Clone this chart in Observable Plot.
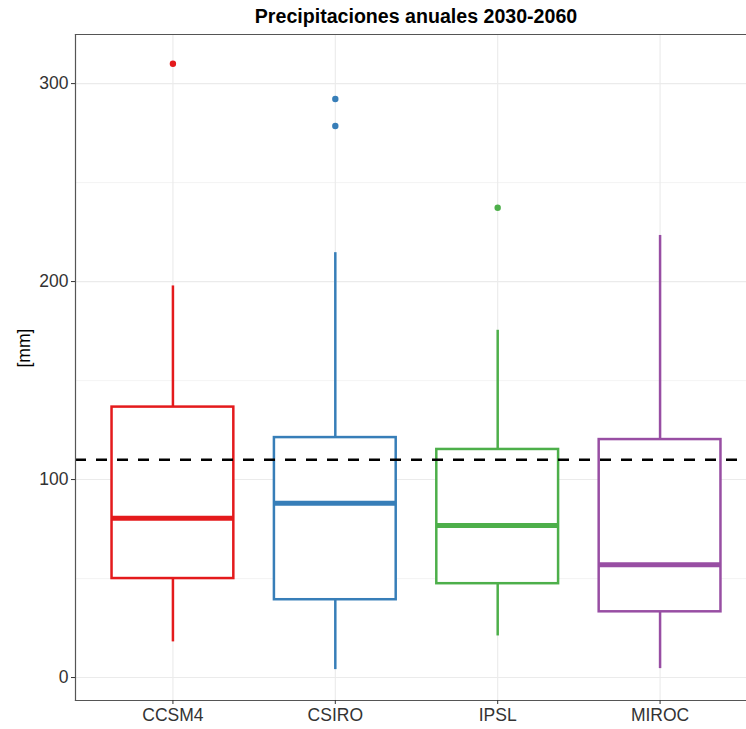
<!DOCTYPE html>
<html><head><meta charset="utf-8">
<script src="https://cdn.jsdelivr.net/npm/d3@7"></script>
<script src="https://cdn.jsdelivr.net/npm/@observablehq/plot@0.6"></script>
<style>
body{margin:0;background:#fff;}
#wrap{position:relative;width:746px;height:729px;overflow:hidden;font-family:"Liberation Sans",Arial,sans-serif;background:#fff;}
#title{position:absolute;top:5px;left:416px;transform:translateX(-50%);font-weight:bold;font-size:19.6px;white-space:nowrap;color:#000;line-height:1.2;}
#chart{position:absolute;left:0;top:0;}
</style></head><body>
<div id="wrap"><div id="chart"></div><div id="title">Precipitaciones anuales 2030-2060</div></div>
<script>
const categories = ["CCSM4", "CSIRO", "IPSL", "MIROC"];
const colors = ["#E41A1C", "#377EB8", "#4DAF4A", "#984EA3"];
const whiskerLow = [18, 4, 21, 4.5];
const q1 = [50, 39.3, 47.4, 33.2];
const median = [80.4, 88, 76.8, 57];
const q3 = [136.6, 121.2, 115.2, 120.2];
const whiskerHigh = [197.8, 214.6, 175.4, 223.3];
const outlierModel = ["CCSM4", "CSIRO", "CSIRO", "IPSL"];
const outlierValue = [310, 292.2, 278.6, 237.3];
const referenceLine = [110];
const yTicks = [0, 100, 200, 300];
const yMinor = [50, 150, 250];
const yDomain = [-11.6, 324.8];

const boxes = categories.map((c, i) => ({model: c, lo: whiskerLow[i], q1: q1[i], med: median[i], q3: q3[i], hi: whiskerHigh[i]}));
const outliers = outlierModel.map((m, i) => ({model: m, value: outlierValue[i]}));

const chart = Plot.plot({
  width: 746, height: 729,
  marginTop: 34, marginBottom: 29, marginLeft: 75, marginRight: 0,
  style: {fontFamily: "Liberation Sans, Arial, sans-serif", fontSize: "17.5px", background: "#fff", color: "#333"},
  x: {type: "band", domain: categories, range: [75, 757], paddingInner: 0.25, paddingOuter: 0.225, align: 0.5, round: false, label: null},
  y: {domain: yDomain, label: null},
  color: {domain: categories, range: colors},
  marks: [
    Plot.ruleY(yMinor, {stroke: "#ececec", strokeWidth: 0.6}),
    Plot.ruleY(yTicks, {stroke: "#ebebeb", strokeWidth: 1.1}),
    Plot.ruleX(categories, {stroke: "#ebebeb", strokeWidth: 1.1}),
    Plot.ruleX(boxes, {x: "model", y1: "q3", y2: "hi", stroke: "model", strokeWidth: 2.5}),
    Plot.ruleX(boxes, {x: "model", y1: "lo", y2: "q1", stroke: "model", strokeWidth: 2.5}),
    Plot.barY(boxes, {x: "model", y1: "q1", y2: "q3", fill: "white", stroke: "model", strokeWidth: 2.5}),
    Plot.tickY(boxes, {x: "model", y: "med", stroke: "model", strokeWidth: 5}),
    Plot.dot(outliers, {x: "model", y: "value", fill: "model", r: 3.2}),
    Plot.ruleY(referenceLine, {stroke: "#000", strokeWidth: 2.5, strokeDasharray: "11,10"}),
    Plot.frame({anchor: "left", stroke: "#555", strokeWidth: 1.2}),
    Plot.frame({anchor: "top", stroke: "#555", strokeWidth: 1.2}),
    Plot.frame({anchor: "bottom", stroke: "#555", strokeWidth: 1.2}),
    Plot.axisY({ticks: yTicks, tickSize: 4, tickPadding: 3, fontSize: 17.5, label: null}),
    Plot.axisX({tickSize: 4, tickPadding: 4, fontSize: 17.5, label: null}),
    Plot.text(["[mm]"], {frameAnchor: "left", dx: -51, rotate: -90, fontSize: 17.5, fill: "#000"})
  ]
});
document.getElementById("chart").appendChild(chart);
</script>
</body></html>
